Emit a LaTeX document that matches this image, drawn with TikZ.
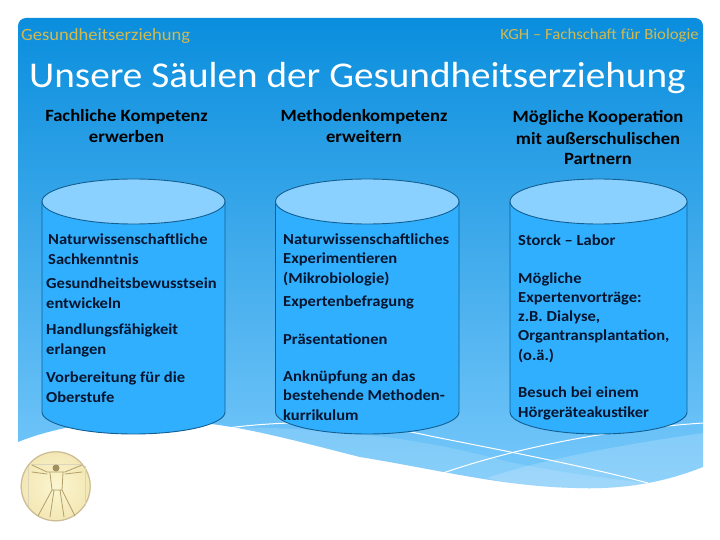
\documentclass[tikz,border=0pt]{standalone}
\usepackage{fontspec}
\setmainfont{Carlito}[FakeStretch=1.08]
\usetikzlibrary{positioning}

\definecolor{slideTop}{HTML}{0A8EDD}
\definecolor{slideBottom}{HTML}{78C9FB}
\definecolor{columnBody}{HTML}{31AFFF}
\definecolor{columnLid}{HTML}{8BD1FF}
\definecolor{columnLine}{HTML}{125F92}
\definecolor{inkBlue}{HTML}{06152E}
\definecolor{gold}{HTML}{D2B94E}
\definecolor{sketch}{HTML}{B39F6A}
\definecolor{paperIn}{HTML}{FBF5D0}
\definecolor{paperOut}{HTML}{F3E7B4}

\tikzset{
    kopf/.style={align=center, inner sep=0pt, anchor=base, text=black, font=\fontsize{17.2}{21}\selectfont\bfseries},
    punkt/.style={align=left, inner sep=0pt, anchor=base west, text=inkBlue, font=\fontsize{15.3}{19.2}\selectfont\bfseries},
    ecke/.style={inner sep=0pt, text=gold}
}

\begin{document}
\begin{tikzpicture}[x=1pt, y=-1pt]
\useasboundingbox (0,0) rectangle (720,540);

%hintergrund der folie
\shade[top color=slideTop, bottom color=slideBottom]
    (18,26) arc[start angle=180, end angle=270, radius=8] -- (695,18) arc[start angle=270, end angle=360, radius=8]
    -- (703,467) .. controls (670,480) and (630,490) .. (575,488)
    .. controls (500,486) and (440,470) .. (360,457)
    .. controls (300,442) and (240,425) .. (190,422)
    .. controls (120,416) and (60,425) .. (18,442) -- cycle;

%helle wellen unten
\fill[white, opacity=0.14] (210,427) .. controls (300,427) and (400,433) .. (493,458)
    .. controls (530,468) and (600,478) .. (648,483) .. controls (620,489) and (600,488) .. (575,488)
    .. controls (500,486) and (440,470) .. (360,457) .. controls (300,442) and (250,430) .. (210,427) -- cycle;
\fill[white, opacity=0.18] (487,478) .. controls (540,460) and (620,445) .. (703,433)
    -- (703,467) .. controls (670,480) and (630,490) .. (575,488) .. controls (540,487) and (510,484) .. (487,478) -- cycle;
\draw[white, line width=1pt] (227,428) .. controls (290,420) and (360,420) .. (430,436)
    .. controls (500,450) and (580,465) .. (648,483);
\draw[white, line width=1pt] (443,473) .. controls (510,450) and (600,430) .. (703,423);

%medaillon
\shade[inner color=paperIn, outer color=paperOut] (55.7,486.3) circle[radius=35];
\draw[sketch!70, line width=1.2pt] (55.7,486.3) circle[radius=34.5];
\draw[sketch!45, line width=0.5pt] (31,464) -- (81,464) (28,466) -- (28,506) (85,466) -- (85,506);
\fill[sketch!90!black] (56,468) circle[radius=3.5];
\draw[sketch, line width=0.8pt, line cap=round] (32,465) -- (47,472) -- (65,472) -- (82,465)
    (32,472) -- (47,474) (65,474) -- (82,472)
    (50,473) -- (52,490) -- (62,490) -- (63,473)
    (52,490) -- (38,516) (62,490) -- (75,516) (54,490) -- (50,517) (60,490) -- (64,517);

%kopfzeile
\node[ecke, anchor=base west, font=\fontsize{17.2}{20}\selectfont] (thema) at (21,41) {Gesundheitserziehung};
\node[ecke, anchor=base east, font=\fontsize{15.5}{20}\selectfont] (schule) at (699,40) {KGH – Fachschaft für Biologie};
\node[inner sep=0pt, anchor=base west, text=white, font=\fontsize{36.3}{40}\selectfont] (titel) at (29,88) {Unsere Säulen der Gesundheitserziehung};

%saeulen
\foreach \links/\rechts in {42/225, 275.5/459, 510/687}{
    \draw[columnLine, line width=0.9pt, fill=columnBody] (\links,201.5) -- (\links,412)
        arc[x radius={(\rechts-\links)/2}, y radius=22, start angle=180, end angle=0]
        -- (\rechts,201.5) -- cycle;
    \draw[columnLine, line width=0.9pt, fill=columnLid] ({(\links+\rechts)/2},201.5) ellipse[x radius={(\rechts-\links)/2}, y radius=22.5];
}

%ueberschriften der spalten
\node[kopf] (kopfFach) at (126.5,143) {Fachliche Kompetenz\\erwerben};
\node[kopf] (kopfMethode) at (364,143) {Methodenkompetenz\\erweitern};
\node[kopf] (kopfPartner) at (598,165) {Mögliche Kooperation\\mit außerschulischen\\Partnern};

%erste saeule
\node[punkt] (fachA) at (48,264) {Naturwissenschaftliche\\Sachkenntnis};
\node[punkt] (fachB) at (46,308) {Gesundheitsbewusstsein\\entwickeln};
\node[punkt] (fachC) at (46,354) {Handlungsfähigkeit\\erlangen};
\node[punkt] (fachD) at (46,402) {Vorbereitung für die\\Oberstufe};

%zweite saeule
\node[punkt] (methodeA) at (283,283) {Naturwissenschaftliches\\Experimentieren\\(Mikrobiologie)};
\node[punkt] (methodeB) at (283,306) {Expertenbefragung};
\node[punkt] (methodeC) at (283,344) {Präsentationen};
\node[punkt] (methodeD) at (283,420) {Anknüpfung an das\\bestehende Methoden-\\kurrikulum};

%dritte saeule
\node[punkt] (partnerA) at (518,245) {Storck – Labor};
\node[punkt] (partnerB) at (518,360) {Mögliche\\Expertenvorträge:\\z.B. Dialyse,\\Organtransplantation,\\(o.ä.)};
\node[punkt] (partnerC) at (518,417) {Besuch bei einem\\Hörgeräteakustiker};

\end{tikzpicture}
\end{document}
